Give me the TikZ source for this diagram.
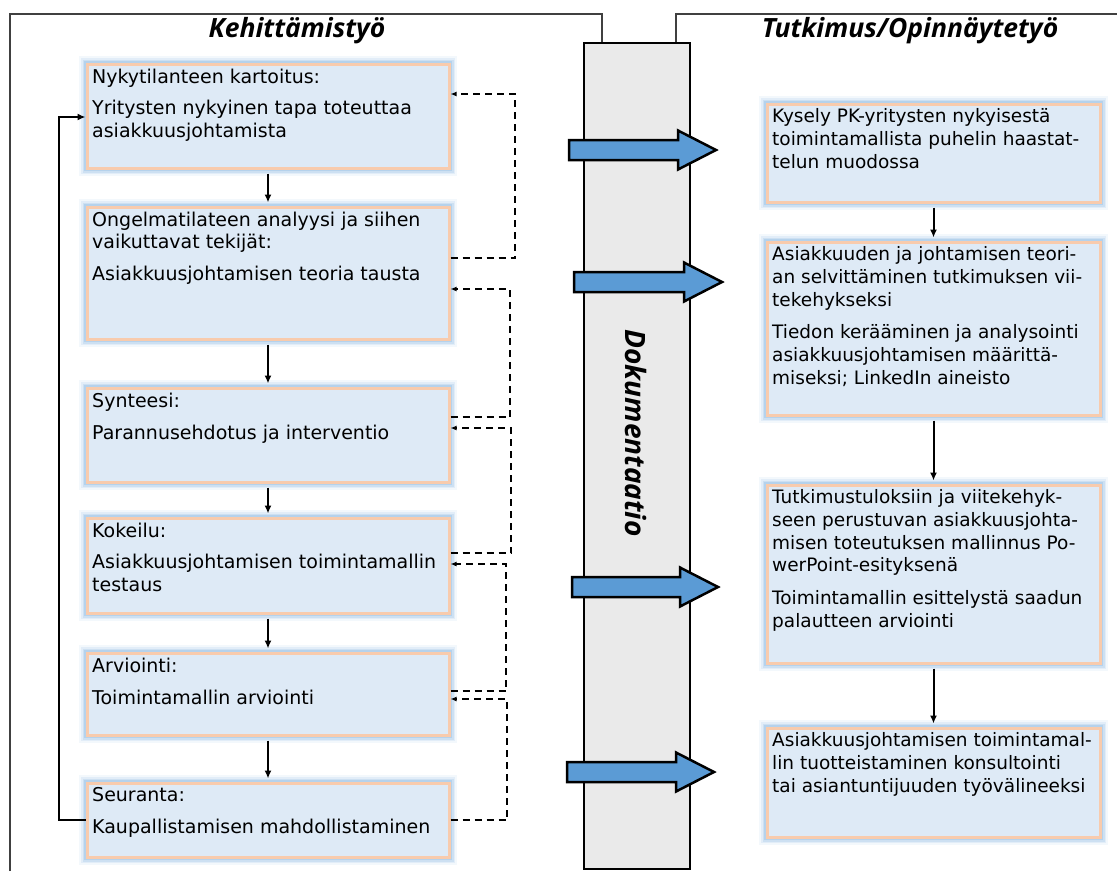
\documentclass[tikz,border=0pt]{standalone}
\usepackage{fontspec}
\setmainfont{DejaVu Sans}
\newfontfamily\headfont{Open Sans}
\usetikzlibrary{arrows.meta,calc}
\definecolor{boxfill}{HTML}{DEEAF6}
\definecolor{peach}{HTML}{F8CBAD}
\definecolor{glowblue}{HTML}{9DC3E6}
\definecolor{colgray}{HTML}{EAEAEA}
\definecolor{arrowblue}{HTML}{5B9BD5}
\definecolor{framegray}{HTML}{404040}

% block arrow: tail x, head base x, tip x, centre y
\newcommand\blockarr[4]{%
  \draw[blockarrow] (#1,{#4-10}) -- (#2,{#4-10}) -- (#2,{#4-19.5}) -- (#3,#4)
    -- (#2,{#4+19.5}) -- (#2,{#4+10}) -- (#1,{#4+10}) -- cycle;}

% process box: text style, name, centre x, width, top y, bottom y, text
\newcommand\procbox[7]{%
  \node[box, minimum width=#4pt, minimum height={(#6-#5)*1pt}] (#2) at (#3,{(#5+#6)/2}) {};
  \node[#1] (#2t) at ([xshift=6.5pt,yshift=-6pt]#2.north west) {#7};}

\begin{document}
\begin{tikzpicture}[x=1pt,y=-1pt,
  box/.style={rectangle, draw=peach, line width=3pt, fill=boxfill, inner sep=0pt,
    preaction={draw=glowblue, line width=16pt, opacity=0.12},
    preaction={draw=glowblue, line width=12pt, opacity=0.2},
    preaction={draw=glowblue, line width=9pt, opacity=0.3},
    preaction={draw=glowblue, line width=6pt, opacity=0.5}},
  boxtext/.style={anchor=north west, inner sep=0pt, align=left,
    font=\fontsize{19pt}{22.5pt}\selectfont},
  rboxtext/.style={boxtext, font=\fontsize{18.5pt}{22.7pt}\selectfont},
  flow/.style={line width=2pt, -{Latex[length=8pt,width=7pt]}, shorten <=4pt, shorten >=3pt},
  fb/.style={line width=1.6pt, dash pattern=on 7pt off 5pt, -{Latex[length=6pt,width=5pt]}},
  loopline/.style={line width=2.2pt, -{Latex[length=8pt,width=7pt]}},
  heading/.style={font=\headfont\fontsize{26.5pt}{30pt}\selectfont\bfseries\itshape},
  frame/.style={draw=framegray, line width=1.5pt},
  blockarrow/.style={fill=arrowblue, draw=black, line width=2.5pt, line join=miter}]

\useasboundingbox (0,0) rectangle (1117,871);

% outer frames
\draw[frame] (10,871) -- (10,14) -- (602,14) -- (602,43);
\draw[frame] (676,43) -- (676,14) -- (1117,14);

\node[heading] (h1) at (297,31) {Kehittämistyö};
\node[heading] (h2) at (910,31) {Tutkimus/Opinnäytetyö};

% documentation column
\node[draw=black, fill=colgray, line width=2.5pt, inner sep=0pt,
      minimum width=106pt, minimum height=826pt] (doc) at (637,456) {};
\node[font=\headfont\fontsize{28pt}{32pt}\selectfont\bfseries\itshape, rotate=-90] (doct) at (636,433) {Dokumentaatio};

\blockarr{569}{678}{716}{150}
\blockarr{574}{684}{722}{282}
\blockarr{572}{680}{718}{587}
\blockarr{567}{676}{714}{772}

% development work
\procbox{boxtext}{b1}{268}{362}{64}{168}{Nykytilanteen kartoitus:\\[9pt]Yritysten nykyinen tapa toteuttaa\\asiakkuusjohtamista}
\procbox{boxtext}{b2}{268}{362}{207}{339}{Ongelmatilateen analyysi ja siihen\\vaikuttavat tekijät:\\[9pt]Asiakkuusjohtamisen teoria tausta}
\procbox{boxtext}{b3}{268}{362}{388}{482}{Synteesi:\\[10pt]Parannusehdotus ja interventio}
\procbox{boxtext}{b4}{268}{362}{518}{613}{Kokeilu:\\[9pt]Asiakkuusjohtamisen toimintamallin\\testaus}
\procbox{boxtext}{b5}{268}{362}{653}{735}{Arviointi:\\[10pt]Toimintamallin arviointi}
\procbox{boxtext}{b6}{268}{362}{783}{857}{Seuranta:\\[9pt]Kaupallistamisen mahdollistaminen}

\foreach \a/\b in {b1/b2,b2/b3,b3/b4,b4/b5,b5/b6}
  \draw[flow] (\a.south) -- (\b.north);

% return loop from the last step to the first
\draw[loopline] (b6.west |- 0,820) -- (59,820) -- (59,117) -- (b1.west |- 0,117);

% feedback between consecutive steps
\draw[fb] (b2.east |- 0,258) -- (515,258) -- (515,94) -- (b1.east |- 0,94);
\draw[fb] (b3.east |- 0,417) -- (510,417) -- (510,289) -- (b2.east |- 0,289);
\draw[fb] (b4.east |- 0,553) -- (511,553) -- (511,428) -- (b3.east |- 0,428);
\draw[fb] (b5.east |- 0,691) -- (506,691) -- (506,564) -- (b4.east |- 0,564);
\draw[fb] (b6.east |- 0,820) -- (507,820) -- (507,699) -- (b5.east |- 0,699);

% research / thesis
\procbox{rboxtext}{r1}{933.5}{333}{104}{202}{Kysely PK-yritysten nykyisestä\\toimintamallista puhelin haastat-\\telun muodossa}
\procbox{rboxtext}{r2}{933.5}{333}{242}{415}{Asiakkuuden ja johtamisen teori-\\an selvittäminen tutkimuksen vii-\\tekehykseksi\\[10pt]Tiedon kerääminen ja analysointi\\asiakkuusjohtamisen määrittä-\\miseksi; LinkedIn aineisto}
\procbox{rboxtext}{r3}{933.5}{333}{485}{663}{Tutkimustuloksiin ja viitekehyk-\\seen perustuvan asiakkuusjohta-\\misen toteutuksen mallinnus Po-\\werPoint-esityksenä\\[10pt]Toimintamallin esittelystä saadun\\palautteen arviointi}
\procbox{rboxtext}{r4}{933.5}{333}{728}{837}{Asiakkuusjohtamisen toimintamal-\\lin tuotteistaminen konsultointi\\tai asiantuntijuuden työvälineeksi}

\foreach \a/\b in {r1/r2,r2/r3,r3/r4}
  \draw[flow] (\a.south) -- (\b.north);

\end{tikzpicture}
\end{document}
